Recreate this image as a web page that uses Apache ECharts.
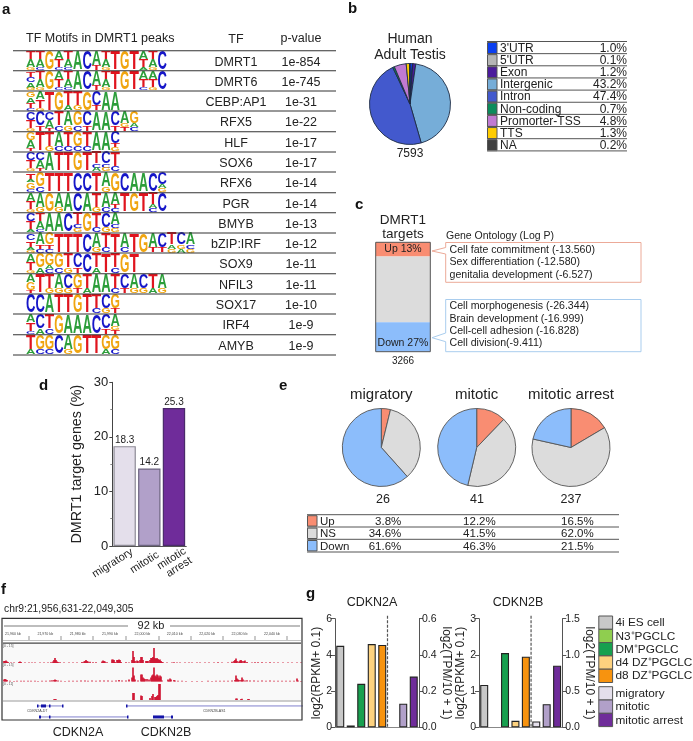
<!DOCTYPE html>
<html><head><meta charset="utf-8">
<style>html,body{margin:0;padding:0;background:#fff}#c{width:693px;height:741px}</style>
<script src="https://cdn.jsdelivr.net/npm/echarts@6/dist/echarts.min.js"></script></head>
<body><div id="c"></div>
<script>
// ---------- panel a
const tfNames=['DMRT1','DMRT6','CEBP:AP1','RFX5','HLF','SOX6','RFX6','PGR','BMYB','bZIP:IRF','SOX9','NFIL3','SOX17','IRF4','AMYB'];
const tfPvalues=['1e-854','1e-745','1e-31','1e-22','1e-17','1e-17','1e-14','1e-14','1e-13','1e-12','1e-11','1e-11','1e-10','1e-9','1e-9'];
// column stacks top to bottom: capital = tall letter, lower case = short letter
const motifLogos=[
 'TAg TAc G ATc TAc A C At TAg T G T ATa TAg C',
 'TCAg TAg G ATc TAc A C At TAg T G T ATc ATg C',
 'GATc ATg T G Ta Tg G Ct A A',
 'CTg Ct CAt Tc Ag Gc Ct A A Ct Agt Gac',
 'GAt T Tg Ac Tc Gc Tc A A Ctg',
 'CTg CAt A T T G T Tca Ccg Tc',
 'TaGc Gc T T T C C T Ag G C A A C Cag',
 'ATg Ag G Ag A C A Tg Ac Atc T G T Tac C',
 'CTa TAc A A C Tcg G Tc Cg Acg',
 'CTag Atc Gtc T T T C Ag Tc T Ac T G At Ct Tag Cga Acg',
 'ATg Ga Gac Gc Tg Ct C Ta T Tc G T',
 'AGt T Tg Ag Cg Gt Ta A A Tc Ct Ag Cg Ta Ag',
 'C C A T T G T Tc Cg Gt',
 'ATc Ca Tc G A A A C Ct Agt',
 'Ta Gc Gc C Ag G T T Ga Gc'];
// ---------- panel b
const genomeFeatures=["3'UTR","5'UTR",'Exon','Intergenic','Intron','Non-coding','Promorter-TSS','TTS','NA'];
const genomeShares=[1.0,0.1,1.2,43.2,47.4,0.7,4.8,1.3,0.2];
const genomeColors=['#0b3ff0','#b5b5b5','#4b1b9c','#76add8','#4359cd','#0b8c5c','#c07ad2','#ffcc00','#404040'];
// ---------- panel c
const targetClasses=['Up','NS','Down'];
const targetShares=[13,60,27];
const goUp=['Cell fate commitment (-13.560)','Sex differentiation (-12.580)','genitalia development (-6.527)'];
const goDown=['Cell morphogenesis (-26.344)','Brain development (-16.999)','Cell-cell adhesion (-16.828)','Cell division(-9.411)'];
// ---------- panel d
const stages=['migratory','mitotic','mitotic\narrest'];
const targetPercent=[18.3,14.2,25.3];
// ---------- panel e
const stageNames=['migratory','mitotic','mitotic arrest'];
const stageCounts=['26','41','237'];
const upShares=[3.8,12.2,16.5];
const nsShares=[34.6,41.5,62.0];
const downShares=[61.6,46.3,21.5];
const classColors=['#f98d72','#dcdcdc','#8cbdfb'];
// ---------- panel f (bin ≈ 1 screen column of the browser view, height in signal units)
const track1=[[2,2],[3,2],[4,2.5],[5,1.5],[6,1],[9,.6],[12,.6],[17,1],[18,1.5],[19,1],[23,.5],[27,.5],[30,.5],[33,.5],[38,.5],[42,.5],[46,.6],[49,.8],[51,1.5],[52,3],[53,5],[54,3],[55,1.5],[56,1],[58,.8],[62,.6],[67,.5],[71,.5],[75,.6],[80,1],[82,1.5],[83,2],[84,3],[85,2],[86,1.5],[88,1.2],[91,.7],[94,.7],[100,1.5],[101,2.5],[102,2],[103,1.5],[105,.8],[110,3.5],[111,3.5],[112,3],[113,1],[115,3],[116,3],[117,3.5],[118,3],[119,1],[124,.7],[127,.5],[130,3],[131,12],[132,6],[133,2],[135,2.5],[136,2],[138,3],[139,6],[140,6],[141,3],[144,2],[145,2],[146,2],[148,3],[149,5],[150,5],[151,6],[152,15],[153,5],[154,4],[155,5],[156,4],[157,3],[158,3.5],[159,2],[160,1],[161,.7],[165,.6],[170,.6],[172,.7],[175,.6],[178,.5],[183,.5],[187,.6],[190,.5],[195,.6],[198,.6],[203,.5],[207,.5],[212,.6],[216,.7],[220,.5],[226,.6],[230,1.2],[232,2],[233,3],[234,4.5],[235,2],[237,1.5],[238,2.5],[239,3],[240,2],[242,2],[243,2.5],[245,1],[250,.6],[253,.7],[256,.8],[260,.7],[264,.6],[268,.7],[272,.6],[276,.6],[281,.5],[286,.6],[290,.5],[295,.6],[299,.5]];
const track2=[[2,2],[3,2.5],[4,2],[5,1.5],[8,.7],[12,.6],[15,.7],[19,.7],[22,.8],[26,.7],[29,.8],[33,.7],[36,.6],[40,.8],[44,.8],[48,1],[50,1.2],[52,1.5],[53,2],[54,1.5],[56,1],[59,.7],[63,.6],[67,.8],[71,.7],[75,.8],[79,.9],[83,1],[86,.8],[90,.9],[94,.8],[98,1],[102,.9],[106,1],[110,.8],[114,1],[117,1.5],[120,1],[124,1],[127,2],[130,4],[131,14],[132,6],[133,2],[136,1],[139,7],[140,7],[141,4],[142,3],[143,2.5],[145,2.5],[147,2],[149,4],[150,6],[151,7],[152,14],[153,6],[154,5],[155,7],[156,6],[157,4],[158,6],[159,5],[160,1],[166,2],[167,1],[168,3],[169,2],[172,1.5],[173,1],[176,.7],[180,.7],[184,.5],[190,.5],[195,.5],[200,.6],[206,.7],[210,.6],[214,.7],[218,.7],[222,.7],[226,.8],[230,1],[233,1.5],[234,6],[235,3],[236,2],[237,1.5],[239,1.5],[240,4],[241,2],[243,1],[245,1.2],[248,1],[252,1],[256,.8],[260,1],[264,.7],[268,.9],[272,.7],[276,.8],[280,.8],[284,.7],[288,.7],[292,.8],[295,3],[296,1],[299,.6]];
const track3=[[52,.8],[53,1],[54,.8],[131,7],[132,7],[139,4.5],[140,4],[148,2],[150,4],[151,6],[153,3],[154,3],[155,4],[156,5],[157,16],[158,16],[234,1.5],[235,1.5],[239,1],[240,1.2],[246,1],[247,1]];
const geneSpans=[[0,35,61],[0,124,301],[1,37,126],[1,151,171]];
const geneExons=[[0,35,36],[0,39,44],[0,47,48],[0,60,61],[0,124,125],[1,37,39],[1,47,48],[1,125,126],[1,151,162],[1,169,171]];
const rulerLabels=['21,960 kb','21,970 kb','21,980 kb','21,990 kb','22,000 kb','22,010 kb','22,020 kb','22,030 kb','22,040 kb'];
// ---------- panel g
const expressionGroups=['4i ES cell','N3⁺PGCLC','DM⁺PGCLC','d4 DZ⁺PGCLC','d8 DZ⁺PGCLC','migratory','mitotic','mitotic arrest'];
const expressionColors=['#c8c8c8','#8fce4f','#17a04f','#fdd27f','#f7930f','#e4dfeb','#b1a0c9','#6f2c9a'];
const cdkn2aRpkm=[4.5,0.1,2.4,4.6,4.55,null,null,null];
const cdkn2aTpm=[null,null,null,null,null,null,0.13,0.28];
const cdkn2bRpkm=[1.17,null,2.05,0.18,1.95,null,null,null];
const cdkn2bTpm=[null,null,null,null,null,0.08,0.32,0.85];

const FONT='"Liberation Sans",Arial,sans-serif', INK='#222';
const gfx=[];
function txt(x,y,s,o){o=o||{};gfx.push({type:'text',x:x,y:y,rotation:o.rot||0,silent:true,z:o.z||20,style:{text:s,fontSize:o.fs||11,fontWeight:o.fw||'normal',fontFamily:FONT,fill:o.fill||INK,align:o.align||'left',verticalAlign:'middle',lineHeight:o.lh||undefined}});}
function line(x1,y1,x2,y2,c,w,dash){gfx.push({type:'line',silent:true,z:10,shape:{x1,y1,x2,y2},style:{stroke:c||'#333',lineWidth:w||1,lineDash:dash||null}});}
function rect(x,y,w,h,fill,stroke,lw,z){gfx.push({type:'rect',silent:true,z:z==null?9:z,shape:{x,y,width:w,height:h},style:{fill:fill||'none',stroke:stroke||'none',lineWidth:lw||1}});}
function poly(points,stroke){gfx.push({type:'polyline',silent:true,z:10,shape:{points},style:{stroke,fill:'none',lineWidth:1}});}

// panel letters
[['a',2,10],['b',348,9],['c',355,205],['d',39,386],['e',279,386],['f',1,590],['g',306,594]].forEach(p=>txt(p[1],p[2],p[0],{fs:15,fw:'bold',fill:'#111'}));

// a: table
txt(26,39,'TF Motifs in DMRT1 peaks',{fs:12.5});txt(236,40,'TF',{fs:12.5,align:'center'});txt(301,39,'p-value',{fs:12.5,align:'center'});
const rowLines=[50.7,70.7,91,111,131.7,152,172,192.7,212.7,233,253,273.7,294,314,334.7,355];
rowLines.forEach(y=>line(13,y,336,y,'#333',1.1));
tfNames.forEach((n,i)=>{const y=(rowLines[i]+rowLines[i+1])/2+1.5;txt(236,y,n,{fs:12.5,align:'center'});txt(301,y,tfPvalues[i],{fs:12.5,align:'center'});});
const logoColors={A:'#2c9e3a',C:'#1616c8',G:'#f0a510',T:'#e0141e'};
const logoAdvance={A:.722,C:.722,G:.778,T:.611};
const logoCells=[];
motifLogos.forEach((m,row)=>m.split(' ').forEach((col,c)=>{
  const ls=col.split('');const tot=ls.reduce((a,l)=>a+(l===l.toUpperCase()?3:1),0);let acc=0;
  ls.forEach(l=>{const w=(l===l.toUpperCase()?3:1)/tot;logoCells.push({value:[c,row+.02+acc*.94,row+.02+(acc+w)*.94],letter:l.toUpperCase()});acc+=w;});
}));

// b: table
txt(410,39,'Human',{fs:14,align:'center'});txt(410,55,'Adult Testis',{fs:14,align:'center'});txt(410,154,'7593',{fs:12,align:'center'});
genomeFeatures.forEach((n,i)=>{const y0=41.5+i*12.15;
  line(487,y0,627,y0,'#555',1);
  rect(487.5,y0+1,9.5,11,genomeColors[i],'#555',1);
  txt(500,y0+7,n,{fs:12});txt(627,y0+7,genomeShares[i].toFixed(1)+'%',{fs:12,align:'right'});});
line(487,150.9,627,150.9,'#777',1.4);

// c: text + callouts
txt(403,220,'DMRT1',{fs:13.5,align:'center'});txt(403,234,'targets',{fs:13.5,align:'center'});txt(403,361,'3266',{fs:10,align:'center'});
txt(446,236,'Gene Ontology (Log P)',{fs:10.5});
rect(375.7,242.3,54.6,109.4,'none','#555',1,12);
poly([[445.7,247.5],[445.7,242.5],[641,242.5],[641,282.3],[445.7,282.3],[445.7,254],[432,251],[445.7,247.5]],'#ecaa98');
poly([[445.7,333],[445.7,299.5],[641,299.5],[641,351.7],[445.7,351.7],[445.7,341.7],[432,337.7],[445.7,333]],'#a9cdee');
goUp.forEach((s,i)=>txt(449.5,250+i*12.3,s,{fs:10.6}));
goDown.forEach((s,i)=>txt(449.5,306.5+i*12.3,s,{fs:10.6}));

// d: rotated category names
stages.forEach((s,i)=>txt([132,158,188][i],[551,554,555][i],s,{fs:11,align:'right',rot:32*Math.PI/180,lh:11}));

// e: text + table
const pieCx=[381.3,476.7,571];
stageNames.forEach((n,i)=>{txt(pieCx[i],394.5,n,{fs:15,align:'center'});txt([383,477,571][i],500,stageCounts[i],{fs:12.5,align:'center'});});
[514.7,527,539.3,552].forEach(y=>line(307,y,619,y,'#555',1));
const tableRows=[upShares,nsShares,downShares];
targetClasses.forEach((n,i)=>{const y0=514.7+i*12.4;
  rect(307.5,y0+1,9.5,10.4,classColors[i],'#555',1);
  txt(320,y0+7,n,{fs:11.5});
  tableRows[i].forEach((v,j)=>txt([401.3,495.7,593.7][j],y0+7,v.toFixed(1)+'%',{fs:11.5,align:'right'}));});

// f: browser frame
txt(4,609,'chr9:21,956,631-22,049,305',{fs:10.3});
rect(2,618.3,300,101.7,'none','#333',1.2,15);
rect(3,644,298,57,'#f9f9f9',null,1,1);
txt(151,626,'92 kb',{fs:11,align:'center'});
line(4,626,128,626,'#444',.7);line(170,626,300,626,'#444',.7);
rulerLabels.forEach((s,i)=>txt(12.9+i*32.37,634,s,{fs:3.6,align:'center',fill:'#444'}));
[29,61,93,126,159,191,223,255,287].forEach(x=>line(x,636,x,640,'#666',.7));
line(3,640.5,301,640.5,'#999',.6);
line(3,643.2,301,643.2,'#444',1.3);
line(3,701,301,701,'#bbb',1.6);
[646,665,683.7].forEach((y,i)=>txt(3,y,['[0 - 15]','[0 - 15]','[0 - 11]'][i],{fs:3.4,fill:'#555'}));
txt(27,711,'CDKN2A-DT',{fs:3.6,fill:'#444'});txt(203,711,'CDKN2B-AS1',{fs:3.6,fill:'#444'});
txt(78,733,'CDKN2A',{fs:12.5,align:'center'});txt(166,733,'CDKN2B',{fs:12.5,align:'center'});

// g: text + legend
txt(372,603,'CDKN2A',{fs:12.5,align:'center'});txt(518,603,'CDKN2B',{fs:12.5,align:'center'});
expressionGroups.forEach((n,i)=>{const y=i<5?616+i*13.3:686.7+(i-5)*13.3;
  rect(598.8,y,13.8,13.3,expressionColors[i],'#555',1);txt(615.5,y+7,n,{fs:11.8});});

// ---------- option
const hiddenAxis=(min,max,inv)=>({type:'value',min,max,show:false,inverse:!!inv});
const grid=[
 {left:26,top:50.7,width:169.2,height:304.3},
 {left:375.7,top:242.3,width:54.6,height:109.4},
 {left:112.3,top:382.3,width:74,height:163.7},
 {left:2,top:643,width:300,height:20},
 {left:2,top:661.5,width:300,height:20},
 {left:2,top:680,width:300,height:20},
 {left:2,top:701,width:300,height:22},
 {left:335,top:618.7,width:84,height:108.6},
 {left:479,top:618.7,width:83.3,height:108.6}];
const lbl={fontFamily:FONT,color:INK};
function exprX(g){return {gridIndex:g,type:'category',data:expressionGroups,axisLabel:{show:false},axisTick:{alignWithLabel:true,length:3,lineStyle:{color:'#555'}},axisLine:{lineStyle:{color:'#888'}}};}
function exprY(g,max,iv,pos,name,rot,gap,dec){return {gridIndex:g,type:'value',min:0,max,interval:iv,position:pos,name,nameLocation:'middle',nameRotate:rot,nameGap:gap,nameTextStyle:{fontFamily:FONT,fontSize:12,color:INK},splitLine:{show:false},axisLine:{show:true,lineStyle:{color:'#555'}},axisTick:{show:true,length:4,lineStyle:{color:'#555'}},axisLabel:Object.assign({fontSize:10.5,margin:3,formatter:v=>v.toFixed(dec)},lbl)};}
const xAxis=[
 Object.assign(hiddenAxis(0,18),{gridIndex:0}),
 {gridIndex:1,type:'category',data:['targets'],show:false},
 {gridIndex:2,type:'category',data:stages,axisTick:{show:false},axisLine:{lineStyle:{color:'#555'}},axisLabel:{show:false}},
 Object.assign(hiddenAxis(0,300),{gridIndex:3}),Object.assign(hiddenAxis(0,300),{gridIndex:4}),Object.assign(hiddenAxis(0,300),{gridIndex:5}),Object.assign(hiddenAxis(0,300),{gridIndex:6}),
 exprX(7),exprX(8)];
const yAxis=[
 Object.assign(hiddenAxis(0,15,true),{gridIndex:0}),
 Object.assign(hiddenAxis(0,100,true),{gridIndex:1}),
 {gridIndex:2,type:'value',min:0,max:30,interval:10,name:'DMRT1 target genes (%)',nameLocation:'middle',nameGap:28,nameTextStyle:{fontFamily:FONT,fontSize:14.3,color:INK},splitLine:{show:false},axisLine:{show:true,lineStyle:{color:'#444'}},axisTick:{show:true,length:3,lineStyle:{color:'#444'}},minorTick:{show:true,splitNumber:2,length:2,lineStyle:{color:'#888'}},axisLabel:Object.assign({fontSize:13,margin:4},lbl)},
 Object.assign(hiddenAxis(0,20),{gridIndex:3}),Object.assign(hiddenAxis(0,20),{gridIndex:4}),Object.assign(hiddenAxis(0,20),{gridIndex:5}),
 Object.assign(hiddenAxis(0,2,true),{gridIndex:6}),
 exprY(7,6,2,'left','log2(RPKM+ 0.1)',90,10,0),exprY(7,.6,.2,'right','log2(TPM/10 + 1)',-90,17,1),
 exprY(8,3,1,'left','log2(RPKM+ 0.1)',90,12,0),exprY(8,1.5,.5,'right','log2(TPM/10 + 1)',-90,18,1)];

const series=[];
series.push({type:'custom',xAxisIndex:0,yAxisIndex:0,silent:true,data:logoCells.map(c=>c.value),
 encode:{x:0,y:[1,2]},clip:false,
 renderItem(p,api){const cell=logoCells[p.dataIndex],col=api.value(0);
  const a=api.coord([col,api.value(1)]),b=api.coord([col+1,api.value(2)]);
  const fs=20,w=b[0]-a[0],h=b[1]-a[1];
  return {type:'text',x:(a[0]+b[0])/2,y:(a[1]+b[1])/2+.06*h,scaleX:w/(logoAdvance[cell.letter]*fs),scaleY:h/(.73*fs),
   style:{text:cell.letter,fontSize:fs,fontWeight:'bold',fontFamily:FONT,fill:logoColors[cell.letter],align:'center',verticalAlign:'middle'}};
 }});
series.push({type:'pie',silent:true,center:[410,104],radius:[0,40.5],startAngle:90,clockwise:true,label:{show:false},labelLine:{show:false},
 itemStyle:{borderColor:'#1d2b44',borderWidth:.9},
 data:genomeFeatures.map((n,i)=>({name:n,value:genomeShares[i],itemStyle:{color:genomeColors[i]}}))});
targetClasses.forEach((n,i)=>series.push({type:'bar',xAxisIndex:1,yAxisIndex:1,stack:'t',barWidth:'100%',silent:true,
 itemStyle:{color:classColors[i]},data:[targetShares[i]],
 label:{show:i!==1,position:i===2?'insideBottom':'inside',distance:3,formatter:n+' '+targetShares[i]+'%',fontSize:10.5,fontFamily:FONT,color:INK}}));
series.push({type:'bar',xAxisIndex:2,yAxisIndex:2,barWidth:22.4,silent:true,
 data:targetPercent.map((v,i)=>({value:v,itemStyle:{color:expressionColors[5+i],borderColor:['#8d8a95','#6d6480','#4a2a6a'][i],borderWidth:1.2}})),
 label:{show:true,position:'top',distance:1,fontSize:10,fontFamily:FONT,color:INK,formatter:p=>p.value.toFixed(1)}});
stageNames.forEach((n,i)=>series.push({type:'pie',silent:true,center:[pieCx[i],447.5],radius:[0,39],startAngle:90,clockwise:true,label:{show:false},labelLine:{show:false},
 itemStyle:{borderColor:'#555',borderWidth:.9},
 data:targetClasses.map((c,j)=>({name:c,value:tableRows[j][i],itemStyle:{color:classColors[j]}}))}));
[track1,track2,track3].forEach((t,i)=>series.push({type:'bar',xAxisIndex:3+i,yAxisIndex:3+i,barWidth:1.6,silent:true,itemStyle:{color:'#cf0f2e'},data:t}));
series.push({type:'custom',xAxisIndex:6,yAxisIndex:6,silent:true,data:geneSpans,encode:{x:[1,2],y:0},
 renderItem(p,api){const y=api.value(0)+.45,a=api.coord([api.value(1),y]),b=api.coord([api.value(2),y]);
  return {type:'line',shape:{x1:a[0],y1:a[1],x2:b[0],y2:b[1]},style:{stroke:'#4a4ab8',lineWidth:.7}};}});
series.push({type:'custom',xAxisIndex:6,yAxisIndex:6,silent:true,data:geneExons,encode:{x:[1,2],y:0},
 renderItem(p,api){const y=api.value(0)+.45,a=api.coord([api.value(1),y]),b=api.coord([api.value(2),y]);
  return {type:'rect',shape:{x:a[0],y:a[1]-1.5,width:Math.max(1.5,b[0]-a[0]),height:3},style:{fill:'#1414a8'}};}});
function expr(g,yl,left,right){
 const it=(i)=>({color:expressionColors[i],borderColor:'#222',borderWidth:1.1});
 series.push({type:'bar',xAxisIndex:7+g,yAxisIndex:yl,barWidth:8,barGap:'-100%',silent:true,data:left.map((v,i)=>({value:v,itemStyle:it(i)}))});
 series.push({type:'bar',xAxisIndex:7+g,yAxisIndex:yl+1,barWidth:8,barGap:'-100%',silent:true,data:right.map((v,i)=>({value:v,itemStyle:it(i)}))});
 series.push({type:'custom',xAxisIndex:7+g,yAxisIndex:yl,silent:true,data:[[4,0]],z:5,
  renderItem(p,api){const a=api.coord([4,0]),t=api.coord([4,yl===7?6:3]),d=api.size([1,0])[0]/2;
   return {type:'line',shape:{x1:a[0]+d,y1:t[1]-3,x2:a[0]+d,y2:a[1]},style:{stroke:'#555',lineWidth:1.2,lineDash:[3,1.5]}};}});
}
expr(0,7,cdkn2aRpkm,cdkn2aTpm);
expr(1,9,cdkn2bRpkm,cdkn2bTpm);

const chart=echarts.init(document.getElementById('c'),null,{renderer:'canvas'});
chart.setOption({animation:false,backgroundColor:'#fff',textStyle:{fontFamily:FONT},grid,xAxis,yAxis,series,graphic:{elements:gfx}});
</script></body></html>
